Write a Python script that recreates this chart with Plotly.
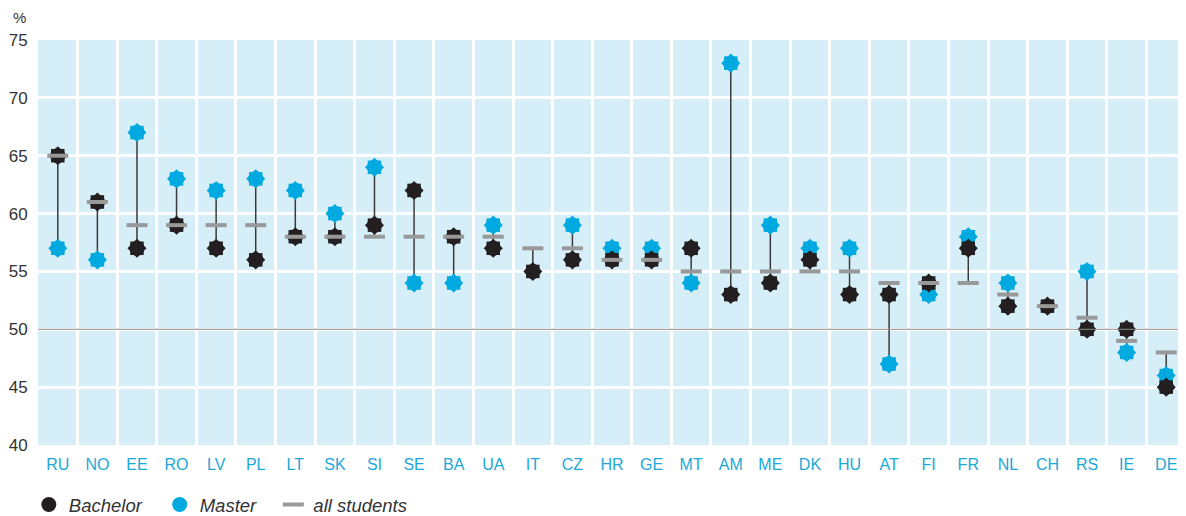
import plotly.graph_objects as go

countries = ["RU","NO","EE","RO","LV","PL","LT","SK","SI","SE","BA","UA","IT","CZ","HR","GE",
             "MT","AM","ME","DK","HU","AT","FI","FR","NL","CH","RS","IE","DE"]
bachelor = [65,61,57,59,57,56,58,58,59,62,58,57,55,56,56,56,57,53,54,56,53,53,54,57,52,52,50,50,45]
master   = [57,56,67,63,62,63,62,60,64,54,54,59,None,59,57,57,54,73,59,57,57,47,53,58,54,None,55,48,46]
all_students = [65,61,59,59,59,59,58,58,58,58,58,58,57,57,56,56,55,55,55,55,55,54,54,54,53,52,51,49,48]
y_ticks = [40,45,50,55,60,65,70,75]

BLACK = "#231f20"
BLUE = "#00a9e0"
GRAY = "#999999"
FONT = "Liberation Sans, Arial, sans-serif"

# connector segments (min to max of the three values for each country)
lx, ly = [], []
for c, b, m, a in zip(countries, bachelor, master, all_students):
    vals = [v for v in (b, m, a) if v is not None]
    lx += [c, c, None]
    ly += [min(vals), max(vals), None]

fig = go.Figure()
fig.add_trace(go.Scatter(x=lx, y=ly, mode="lines", line=dict(color="#3a3a3a", width=1.5),
                         showlegend=False, hoverinfo="skip"))

def star(y, color, name, legend_group, legend_id):
    # 8-point star built from a circle and two squares
    fig.add_trace(go.Scatter(x=countries, y=y, mode="markers", name=name, legendgroup=legend_group,
                             legend=legend_id,
                             marker=dict(symbol="circle", size=15, color=color, line=dict(width=0)),
                             showlegend=True))
    for ang in (0, 45):
        fig.add_trace(go.Scatter(x=countries, y=y, mode="markers", legendgroup=legend_group,
                                 marker=dict(symbol="square", size=13.5, angle=ang, color=color, line=dict(width=0)),
                                 showlegend=False, hoverinfo="skip"))

star(master, BLUE, "Master", "m", "legend2")
star(bachelor, BLACK, "Bachelor", "b", "legend")
fig.add_trace(go.Scatter(x=countries, y=all_students, mode="markers", name="all students", legend="legend3",
                         marker=dict(symbol="line-ew", size=15, line=dict(color=GRAY, width=4))))

fig.add_shape(type="line", xref="paper", yref="y", x0=0, x1=1, y0=50, y1=50,
              line=dict(color="#8a8a8a", width=1), layer="above")

leg_font = dict(size=18.5, color="#333333", family=FONT, style="italic")
def leg(x):
    return dict(orientation="h", x=x, xanchor="left", y=-0.148, yanchor="middle",
                font=leg_font, itemwidth=30, bgcolor="rgba(0,0,0,0)")

# page body has an 8px margin, so the figure is 8px smaller and offsets are compensated
fig.update_layout(
    width=1178, height=508,
    margin=dict(l=30, r=0, t=32, b=71, autoexpand=False),
    paper_bgcolor="white", plot_bgcolor="#d6eef7",
    font=dict(family=FONT, color="#333333"),
    legend=leg(-0.008), legend2=leg(0.106), legend3=leg(0.205),
    xaxis=dict(type="category", categoryorder="array", categoryarray=countries,
               tickson="boundaries", showgrid=True, gridcolor="white", gridwidth=3,
               ticks="", ticklabelstandoff=8,
               tickfont=dict(size=16, color="#1ba8d8"), showline=False, zeroline=False,
               range=[-0.5, len(countries) - 0.5]),
    yaxis=dict(range=[40, 75], tickvals=y_ticks, showgrid=True, gridcolor="white", gridwidth=3,
               tickfont=dict(size=17, color="#333333"), zeroline=False, showline=False,
               ticks="outside", ticklen=6, tickcolor="rgba(0,0,0,0)"),
    annotations=[dict(text="%", xref="paper", yref="paper", x=-0.016, y=1.0, yshift=23,
                      xanchor="center", yanchor="middle", showarrow=False,
                      font=dict(size=15, color="#333333", family=FONT))],
    showlegend=True,
)

fig.write_html("out.html")
